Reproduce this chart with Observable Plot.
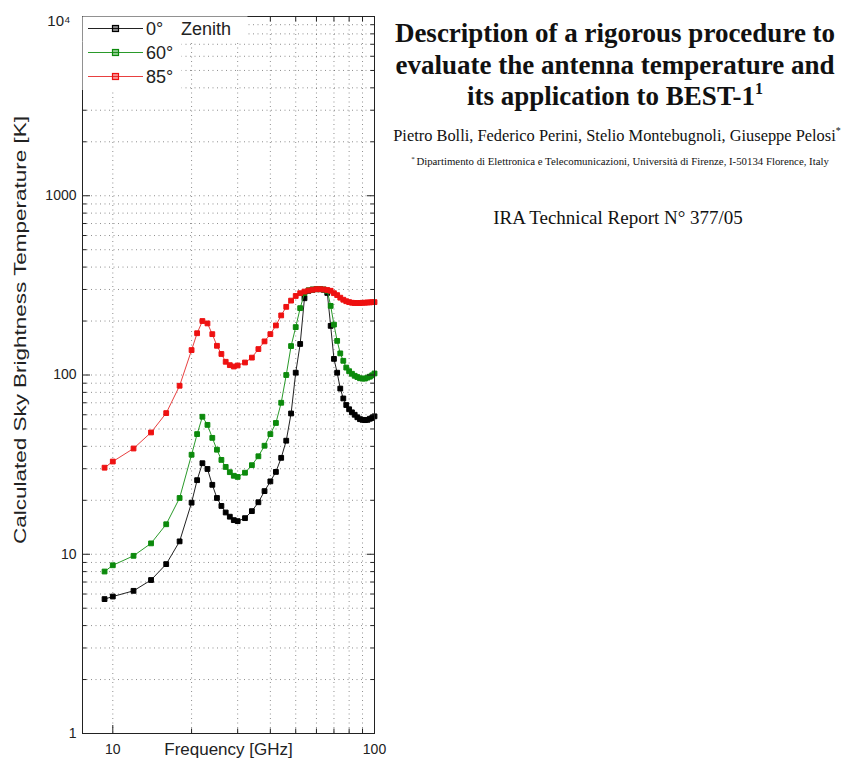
<!DOCTYPE html>
<html><head><meta charset="utf-8">
<script src="https://cdn.jsdelivr.net/npm/d3@7"></script>
<script src="https://cdn.jsdelivr.net/npm/@observablehq/plot@0.6"></script>
<style>
html,body{margin:0;padding:0;background:#fff;}
#wrap{position:relative;width:846px;height:764px;overflow:hidden;}
</style></head><body><div id="wrap"></div>
<script>
// ---- data ----
const freqGHz = [9.3,10,12,14,16,18,20,21,22,23,24,25,26,27,28,29,30,32,34,36,38,40,42,44,46,48,50,52,54,56,58,60,62,64,66,68,70,72,74,76,78,80,82,84,86,88,90,92,94,96,98,100];
const tb0  = [5.62,5.81,6.25,7.18,8.81,11.8,19.4,25.9,32.2,29.9,24.4,20.6,18.6,17.1,16.2,15.5,15.3,15.9,17.4,19.5,22.5,25.5,28.8,34.5,43,61,103,149,268,295,299,301,301,299,287,188,123,103,84,74,68,64.4,61.9,60,58.1,56.7,56.2,56,56.2,57,57.6,58.8];
const tb60 = [8.01,8.68,9.8,11.5,14.7,20.6,35.9,46.8,58.5,52.7,44.6,38.3,33.6,30.7,28.7,27.4,27.0,28.5,31.4,35.2,40.3,46.8,54,70,100,145,185,236,286,297,300,301,301,300,295,243,191,155,132,120,110,105,101.6,99,97.4,95.9,95.5,95.5,96.7,97.9,99.6,102];
const tb85 = [30.4,32.9,38.9,47.8,61.3,87.1,137.7,171,200,194,169,145.5,131,118.5,113.5,111.5,113,117.4,125,139.5,154,169,189,215,240,260,276,286,292,296,299,301,301,300,298,295,286,279,270,263,258,255,253,252,252,252,253,253,254,254,255,255];
const seriesNames = ["0°", "60°", "85°"];
const seriesColors = ["#000000", "#0c8a0c", "#ee1111"];
const lineColors = ["#222222", "#2a9a2a", "#e84040"];
const xGridTicks = [10,20,30,40,50,60,70,80,90];
const xLabelTicks = [10,100];
const xTickLabels = ["10","100"];
const yMajorTicks = [1,10,100,1000,10000];
const yTickLabels = ["1","10","100","1000","10⁴"];
const yMinorMultipliers = [2,3,4,5,6,7,8,9];
const xTitle = "Frequency [GHz]";
const yTitle = "Calculated Sky Brightness Temperature [K]";
const titleLines = ["Description of a rigorous procedure to", "evaluate the antenna temperature and", "its application to BEST-1"];
const authors = "Pietro Bolli, Federico Perini, Stelio Montebugnoli, Giuseppe Pelosi";
const affiliation = "Dipartimento di Elettronica e Telecomunicazioni, Università di Firenze, I-50134 Florence, Italy";
const report = "IRA Technical Report N° 377/05";

// ---- build table ----
const seriesValues = [tb0, tb60, tb85];
const rows = [];
seriesNames.forEach((name, s) => freqGHz.forEach((f, i) => rows.push({f, v: seriesValues[s][i], name})));
const yMinorTicks = yMajorTicks.slice(0, -1).flatMap(d => yMinorMultipliers.map(m => m * d));
const yInnerMajor = yMajorTicks.slice(1, -1);

const gridStyle = {stroke: "#444", strokeOpacity: 0.6, strokeDasharray: "1,3.5", strokeWidth: 1};

const marks = [
  Plot.gridX(xGridTicks, gridStyle),
  Plot.gridY(yMinorTicks.concat(yInnerMajor), gridStyle)
];
seriesNames.forEach((name, s) => {
  const data = rows.filter(d => d.name === name);
  marks.push(Plot.line(data, {x: "f", y: "v", stroke: lineColors[s], strokeWidth: 1}));
  marks.push(Plot.dot(data, {x: "f", y: "v", symbol: "square", r: 2.7, fill: seriesColors[s], stroke: seriesColors[s], strokeWidth: 1}));
});
marks.push(
  Plot.frame({stroke: "#222", strokeWidth: 1}),
  // inward ticks on all four sides
  Plot.axisX(xGridTicks.slice(1), {anchor: "bottom", tickSize: -4.5, fill: "none", label: null, stroke: "#222"}),
  Plot.axisX(xGridTicks.slice(1), {anchor: "top", tickSize: -4.5, fill: "none", label: null, stroke: "#222"}),
  Plot.axisX([10], {anchor: "bottom", tickSize: -8, fill: "none", label: null, stroke: "#222"}),
  Plot.axisX([10], {anchor: "top", tickSize: -8, fill: "none", label: null, stroke: "#222"}),
  Plot.axisY(yMinorTicks, {anchor: "left", tickSize: -4.5, fill: "none", label: null, stroke: "#222"}),
  Plot.axisY(yMinorTicks, {anchor: "right", tickSize: -4.5, fill: "none", label: null, stroke: "#222"}),
  Plot.axisY(yInnerMajor, {anchor: "left", tickSize: -8, fill: "none", label: null, stroke: "#222"}),
  Plot.axisY(yInnerMajor, {anchor: "right", tickSize: -8, fill: "none", label: null, stroke: "#222"}),
  // tick labels
  Plot.axisX(xLabelTicks, {anchor: "bottom", tickSize: 0, tickPadding: 11, label: null, fontSize: 14, fill: "#222",
    tickFormat: d => xTickLabels[xLabelTicks.indexOf(d)]}),
  Plot.axisY(yMajorTicks.slice(0, -1), {anchor: "left", tickSize: 0, tickPadding: 6, label: null, fontSize: 14, fill: "#222",
    tickFormat: d => yTickLabels[yMajorTicks.indexOf(d)]}),
  Plot.text(yMajorTicks.slice(-1), {y: d => d, frameAnchor: "left", dx: -12, dy: 5, textAnchor: "end", fontSize: 15, fill: "#222",
    text: d => yTickLabels[yMajorTicks.indexOf(d)]}),
  // axis titles
  Plot.text([xTitle], {frameAnchor: "bottom", dy: 21, fontSize: 17, fill: "#222", text: d => d}),
  Plot.text([yTitle], {frameAnchor: "left", dx: -62, dy: 169, rotate: -90, textAnchor: "start", fontSize: 16, fill: "#222", text: d => d})
);

const svg = Plot.plot({
  width: 846, height: 764,
  marginLeft: 82, marginRight: 472, marginTop: 16, marginBottom: 31,
  x: {type: "log", domain: [7.66, 100], label: null},
  y: {type: "log", domain: [1, 10000], label: null},
  style: {fontFamily: '"Liberation Sans", Arial, sans-serif', fontSize: "14px", background: "white", color: "#222"},
  marks
});
document.getElementById("wrap").appendChild(svg);

const root = d3.select(svg);
// stretch the rotated y title like the reference
root.selectAll("text").filter(function () { return this.textContent === yTitle; })
  .attr("textLength", 428).attr("lengthAdjust", "spacingAndGlyphs");

// ---- legend (top-left, inside the axes) ----
const lg = root.append("g").attr("font-family", '"Liberation Sans", Arial, sans-serif').attr("font-size", 18)
  .attr("fill", "#222").attr("text-anchor", "start");
lg.append("rect").attr("x", 82.5).attr("y", 16.5).attr("width", 165).attr("height", 25).attr("fill", "white");
lg.append("rect").attr("x", 82.5).attr("y", 41).attr("width", 99).attr("height", 49).attr("fill", "white");
const legendY = [28.5, 52.5, 76.5];
seriesNames.forEach((name, s) => {
  const y = legendY[s];
  lg.append("line").attr("x1", 88).attr("x2", 143).attr("y1", y).attr("y2", y).attr("stroke", lineColors[s]).attr("stroke-width", 1);
  lg.append("rect").attr("x", 112.5).attr("y", y - 3).attr("width", 6).attr("height", 6)
    .attr("fill", seriesColors[s]).attr("fill-opacity", 0.45).attr("stroke", seriesColors[s]).attr("stroke-width", 1.2);
  lg.append("text").attr("x", 146).attr("y", y + 6.5).text(name);
});
lg.append("text").attr("x", 181).attr("y", legendY[0] + 6.5).text("Zenith");

// ---- document text block on the right ----
const tg = root.append("g").attr("font-family", '"Liberation Serif", "Times New Roman", serif').attr("fill", "#111").attr("text-anchor", "middle");
const titleY = [42, 73.5, 105];
titleLines.forEach((t, i) => {
  const el = tg.append("text").attr("x", 615).attr("y", titleY[i]).attr("font-size", 27).attr("font-weight", "bold").text(t);
  if (i === 2) el.append("tspan").attr("font-size", 16).attr("dy", -11).text("1");
});
const au = tg.append("text").attr("x", 617).attr("y", 141).attr("font-size", 16.4).text(authors);
au.append("tspan").attr("font-size", 10).attr("dy", -7).text("*");
const af = tg.append("text").attr("x", 620).attr("y", 165).attr("font-size", 10.8);
af.append("tspan").attr("font-size", 7).attr("dy", -4).text("* ");
af.append("tspan").attr("dy", 4).text(affiliation);
tg.append("text").attr("x", 618).attr("y", 224).attr("font-size", 19).text(report);
</script></body></html>
